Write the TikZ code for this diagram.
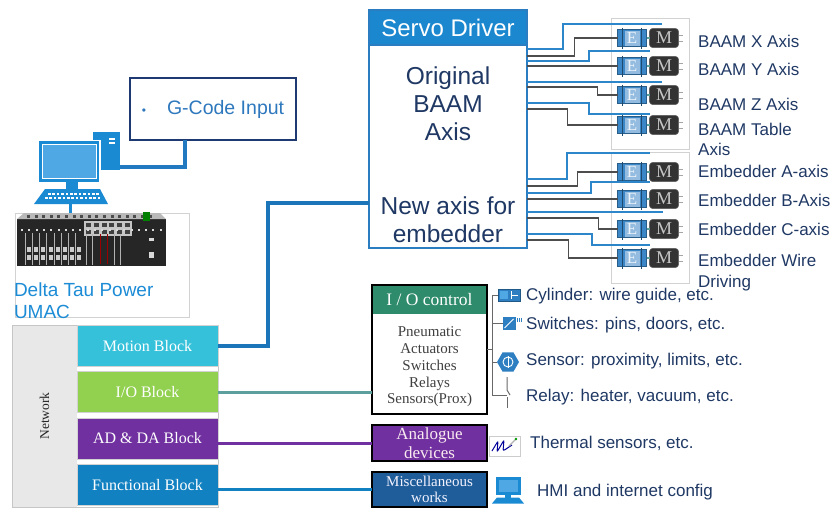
\documentclass[tikz,border=0pt]{standalone}
\usepackage{fontspec}
\setmainfont{Liberation Serif}
\setsansfont{Liberation Sans}
\usetikzlibrary{calc,shapes.geometric}

\definecolor{navy}{HTML}{1F3864}
\definecolor{servoblue}{HTML}{1B87CF}
\definecolor{servoedge}{HTML}{2A7DC0}
\definecolor{gnavy}{HTML}{1F3A73}
\definecolor{gblue}{HTML}{2E78BD}
\definecolor{iconblue}{HTML}{1A8AD3}
\definecolor{iconlight}{HTML}{4FA8E4}
\definecolor{iconblue2}{HTML}{2E7FC2}
\definecolor{umacblue}{HTML}{1C8CD6}
\definecolor{linkblue}{HTML}{1C74B9}
\definecolor{glinkblue}{HTML}{2279BF}
\definecolor{motioncol}{HTML}{36C1DA}
\definecolor{iocol}{HTML}{92D050}
\definecolor{purp}{HTML}{7030A0}
\definecolor{funccol}{HTML}{1181C1}
\definecolor{teallink}{HTML}{5C9F9D}
\definecolor{iogreen}{HTML}{2E8B6C}
\definecolor{miscblue}{HTML}{1F5D9A}
\definecolor{encblue}{HTML}{3A86C6}
\definecolor{wireblue}{HTML}{2D86C9}
\definecolor{wiregray}{HTML}{4D4D4D}

\newcommand\fsz[2]{\fontsize{#1}{#2}\selectfont}

% encoder + motor pair, #1 = index, (#2,#3) = encoder centre
\newcommand\emunit[3]{%
  \node[enc] (e#1) at (#2,#3) {E};
  \draw[fin] ($(e#1.north west)+(5,-2)$) -- ($(e#1.south west)+(5,2)$);
  \draw[fin] ($(e#1.north east)+(-5,-2)$) -- ($(e#1.south east)+(-5,2)$);
  \node[mot] (m#1) at ($(e#1)+(32,0)$) {M};
  \draw[teallink, line width=1.2pt] (e#1.east) -- (m#1.west);
  \draw[gray!70, line width=1pt] ($(m#1.east)+(0,-3)$) -- ++(4,0) ($(m#1.east)+(0,3)$) -- ++(4,0);
}

\begin{document}
\begin{tikzpicture}[x=1pt,y=-1pt,
  box/.style={inner sep=0, outer sep=0},
  lbl/.style={font=\sffamily\fsz{17}{20}, text=navy, anchor=west, inner sep=0, align=left},
  servotxt/.style={font=\sffamily\fsz{24.5}{28}, text=navy, align=center, inner sep=0},
  blk/.style={box, minimum width=141pt, minimum height=41pt, draw=gray!35, line width=0.8pt,
    text=white, font=\fsz{16}{19}},
  enc/.style={box, fill=encblue, draw=encblue!70!black, line width=0.6pt,
    minimum width=29pt, minimum height=17pt, text=white!92!encblue, font=\fsz{17}{17},
    path picture={\fill[encblue!55!white]
      ($(path picture bounding box.south west)+(7,-1)$) rectangle
      ($(path picture bounding box.north east)+(-7,1)$);}},
  fin/.style={draw=encblue!55!black, line width=0.9pt},
  mot/.style={box, fill=black!80, draw=black!60, line width=0.6pt, rounded corners=3pt,
    minimum width=29pt, minimum height=19pt, text=gray!45, font=\fsz{18}{18}},
  grp/.style={box, draw=gray!35, line width=0.8pt, fill=white},
  wb/.style={draw=wireblue, line width=1.3pt},
  wg/.style={draw=wiregray, line width=1.3pt},
  br/.style={draw=wiregray!85, line width=1pt},
  link/.style={draw=linkblue, line width=4pt},
]
\useasboundingbox (0,0) rectangle (832,509);

% ---------- controller: UMAC rack and label ----------
\node[box, draw=gray!35, line width=0.8pt, fill=white, minimum width=174pt, minimum height=104pt] (umacbox) at (102,265) {};
\node[box, fill=black!85, minimum width=149pt, minimum height=47pt] (rack) at (91.5,242.5) {};
\fill[gray!55] (24,213) -- (160,213) -- (166,219) -- (17,219) -- cycle;
\foreach \i in {0,...,16} \fill[black!70] (27+\i*7.6,214.5) rectangle ++(3,3);
\fill[gray!45] (84,221) rectangle (132,236);
\foreach \i in {0,...,5} \fill[black!75] (86+\i*7.8,223) rectangle ++(5,4);
\foreach \i in {0,...,5} \fill[black!75] (86+\i*7.8,230) rectangle ++(5,4);
\fill[green!50!black] (143,212) rectangle (150,221);
\foreach \i in {0,...,19} \fill[white!70!gray] (21+\i*7.3,229) rectangle ++(2,2);
\foreach \i in {0,...,7} {
  \draw[gray!60, line width=0.5pt] (25+\i*7.2,233) -- (25+\i*7.2,265);
  \fill[white!80!black] (27+\i*7.2,247) rectangle ++(4,5);
  \fill[white!80!black] (27+\i*7.2,255) rectangle ++(4,5);
}
\foreach \xx in {86,92,114,120} \draw[gray!60, line width=0.6pt] (\xx,234) -- (\xx,265);
\foreach \xx in {100,107} \draw[red!60!black, line width=0.8pt] (\xx,234) -- (\xx,264);
\fill[white!70!gray] (149,238) rectangle ++(5,3);
\fill[white!70!gray] (149,252) rectangle ++(5,6);
\node[box, font=\sffamily\fsz{19}{22}, text=umacblue, align=left, anchor=west] (umaclbl) at (14,301) {Delta Tau Power\\UMAC};

% ---------- workstation ----------
\node[box, fill=iconblue, minimum width=27pt, minimum height=38pt] (tower) at (106.5,151) {};
\fill[white] ($(tower.north east)+(-11,6)$) rectangle ++(6,2);
\fill[white] ($(tower.north east)+(-11,10)$) rectangle ++(6,2);
\node[box, fill=iconblue, draw=white, line width=1.5pt, minimum width=62pt, minimum height=42pt] (monitor) at (69,161.5) {};
\draw[white, line width=0.8pt, fill=iconlight] ($(monitor.north west)+(4,4)$) rectangle ($(monitor.south east)+(-4,-4)$);
\fill[iconblue] (66,182) rectangle (78,189);
\fill[iconblue] (45,189) -- (100,189) -- (108,204) -- (34,204) -- cycle;
\foreach \i in {0,...,11} \fill[white] (48+\i*4.4,192.5) rectangle ++(2.5,2);
\foreach \i in {0,...,12} \fill[white] (45+\i*4.4,197) rectangle ++(2.5,2);
\draw[iconblue, line width=3pt] (70,204) -- (70,213);

% ---------- G-code input ----------
\node[box, draw=gnavy, line width=2pt, fill=white, minimum width=166pt, minimum height=62pt,
  font=\sffamily\fsz{19.5}{20}, text=gblue] (gcode) at (213,109)
  {{\fsz{12}{12}\textbullet}\hspace{21pt}G-Code Input};
\draw[draw=glinkblue, line width=4pt] ($(gcode.south)+(-28,0)$) |- ($(tower.east)+(0,16)$);

% ---------- network stack ----------
\node[box, draw=gray!45, line width=0.8pt, fill=gray!18, minimum width=206pt, minimum height=182pt] (net) at (115,416) {};
\fill[white] ($(net.north west)+(65,0.5)$) rectangle ($(net.south east)+(-0.5,-0.5)$);
\node[rotate=90, font=\fsz{13.5}{14}, text=black!85, inner sep=0] (netlbl) at (44.5,416) {Network};
\node[blk, fill=motioncol] (motion) at (147.5,346) {Motion Block};
\node[blk, fill=iocol] (io) at (147.5,392) {I/O Block};
\node[blk, fill=purp] (adda) at (147.5,438.5) {AD \& DA Block};
\node[blk, fill=funccol] (func) at (147.5,485) {Functional Block};

% ---------- servo driver ----------
\node[box, draw=servoedge, line width=2pt, fill=white, minimum width=158pt, minimum height=238pt] (servo) at (448,129) {};
\node[box, fill=servoblue, minimum width=158pt, minimum height=35pt, anchor=north,
  text=white, font=\sffamily\fsz{24}{24}] (servohead) at (servo.north) {Servo Driver};
\draw[servoedge, line width=2pt] (servohead.south west) -- (servohead.south east);
\draw[servoedge, line width=2pt] (servo.south west) rectangle (servo.north east);
\node[servotxt] (orig) at (448,104) {Original\\BAAM\\Axis};
\node[servotxt] (newax) at (448,220) {New axis for\\embedder};

% ---------- axis groups ----------
\node[grp, minimum width=78pt, minimum height=131pt] (grpa) at (650,83.5) {};
\node[grp, minimum width=78pt, minimum height=131pt] (grpb) at (650,218) {};
\emunit{1}{632}{38}
\emunit{2}{632}{66}
\emunit{3}{632}{95}
\emunit{4}{632}{125}
\emunit{5}{632}{172}
\emunit{6}{632}{199}
\emunit{7}{632}{229}
\emunit{8}{632}{258}

% wiring, original axes
\draw[wb] ($(servo.north east)+(0,39)$) -| (563,24) -- (662,24);
\draw[wg] ($(servo.north east)+(0,46)$) -| ($(e1.west)+(-43,0)$) -- (e1.west);
\draw[wb] ($(servo.north east)+(0,51)$) -| (589,51) -- (650,51);
\draw[wg] (servo.east |- e2.west) -- (e2.west);
\draw[wb] ($(servo.north east)+(0,72)$) -- ++(135,0);
\draw[wg] ($(servo.north east)+(0,77)$) -| ($(e3.west)+(-20,0)$) -- (e3.west);
\draw[wb] ($(servo.north east)+(0,93)$) -| (589,114) -- (650,114);
\draw[wg] ($(servo.north east)+(0,99)$) -| ($(e4.west)+(-50,0)$) -- (e4.west);
% wiring, embedder axes
\draw[wb] ($(servo.north east)+(0,169)$) -| (567,153) -- (650,153);
\draw[wg] ($(servo.north east)+(0,176)$) -| ($(e5.west)+(-40,0)$) -- (e5.west);
\draw[wb] ($(servo.north east)+(0,183)$) -| (591,182) -- (650,182);
\draw[wg] (servo.east |- e6.west) -- (e6.west);
\draw[wb] ($(servo.north east)+(0,202)$) -- ++(136,0);
\draw[wg] ($(servo.north east)+(0,208)$) -| ($(e7.west)+(-19,0)$) -- (e7.west);
\draw[wb] ($(servo.north east)+(0,224)$) -| (592,245) -- (650,245);
\draw[wg] ($(servo.north east)+(0,230)$) -| ($(e8.west)+(-49,0)$) -- (e8.west);

% axis labels
\node[lbl] (lx) at (698,41) {BAAM X Axis};
\node[lbl] (ly) at (698,69) {BAAM Y Axis};
\node[lbl] (lz) at (698,104) {BAAM Z Axis};
\node[lbl] (lt) at (698,139) {BAAM Table\\Axis};
\node[lbl] (la) at (698,171) {Embedder A-axis};
\node[lbl] (lb) at (698,200) {Embedder B-Axis};
\node[lbl] (lc) at (698,229.5) {Embedder C-axis};
\node[lbl, font=\sffamily\fsz{17}{21}] (lw) at (698,273) {Embedder Wire\\Driving};

% ---------- I/O side ----------
\node[box, draw=black, line width=2.5pt, fill=white, minimum width=115pt, minimum height=129pt] (ioctl) at (429.5,349.5) {};
\node[box, fill=iogreen, minimum width=115pt, minimum height=29pt, anchor=north,
  text=white, font=\fsz{17.5}{18}] (iohead) at (ioctl.north) {I / O control};
\draw[black, line width=2.5pt] (ioctl.south west) rectangle (ioctl.north east);
\node[align=center, font=\fsz{15}{16.8}, text=black!75, inner sep=0] (iobody) at (429.5,367)
  {Pneumatic\\Actuators\\Switches\\Relays\\Sensors(Prox)};
\node[box, draw=black, line width=2pt, fill=purp, minimum width=115pt, minimum height=36pt,
  text=purple!8, font=\fsz{17}{18.5}, align=center] (analog) at (429.5,443) {Analogue\\devices};
\node[box, draw=black, line width=2pt, fill=miscblue, minimum width=115pt, minimum height=35pt,
  text=blue!5, font=\fsz{15}{16}, align=center] (misc) at (429.5,489.5) {Miscellaneous\\works};

% links from the network blocks
\draw[link] (motion.east) -| ($(servo.south west)+(-101,-45)$) -- ($(servo.south west)+(0,-45)$);
\draw[draw=teallink, line width=3pt] (io.east) -- (io.east -| ioctl.west);
\draw[draw=purp, line width=3pt] ($(adda.east)+(0,4.5)$) -- (analog.west);
\draw[draw=funccol, line width=3pt] ($(func.east)+(0,4.5)$) -- (misc.west);

% I/O devices
\node[box, fill=iconblue2, draw=iconblue2!70!black, line width=0.6pt, minimum width=22pt, minimum height=12pt] (cyl) at (509,295) {};
\fill[iconlight] ($(cyl.north west)+(2,2)$) rectangle ($(cyl.south)+(-1,-2)$);
\draw[white, line width=0.8pt] ($(cyl.north)+(2,2)$) -- ($(cyl.south)+(2,-2)$);
\draw[white, line width=0.8pt] ($(cyl.east)+(-8,0)$) -- ($(cyl.east)+(-2,0)$);
\node[box, fill=iconblue2, minimum size=13pt] (swi) at (509,323.5) {};
\draw[white, line width=0.8pt] ($(swi.south west)+(2,-2)$) -- ($(swi.north east)+(-2,2)$);
\foreach \k in {1.5,3.5,5.5} \draw[iconblue2, line width=0.8pt] ($(swi.north east)+(\k,1)$) -- ++(0,4);
\node[box, regular polygon, regular polygon sides=6, fill=iconblue2, minimum size=22pt] (sens) at (508,362) {};
\draw[white, line width=0.9pt] (sens.center) circle (5pt);
\draw[white, line width=0.9pt] ($(sens.center)+(0,-6)$) -- ($(sens.center)+(0,6)$);
\coordinate (relay) at (507,395);
\draw[br] ($(relay)+(0,-18)$) -- ($(relay)+(0,-5)$) -- ($(relay)+(3,0)$);
\draw[br] ($(relay)+(0,2)$) -- ($(relay)+(0,13)$);

\coordinate (bust) at (492,295);
\coordinate (busb) at (492,395);
\draw[br] (bust) -- (busb);
\draw[br] (bust) -- (cyl.west);
\draw[br] (bust |- swi.west) -- (swi.west);
\draw[br] (bust |- sens.west) -- (sens.west);
\draw[br] (busb) -- (relay);
\draw[br] (ioctl.east) -- (ioctl.east -| bust);

\node[box, draw=gray!40, line width=0.6pt, fill=white, minimum width=31pt, minimum height=20pt] (therm) at (504.5,446) {};
\draw[blue!60!black, line width=1pt, rounded corners=2pt] ($(therm.west)+(3,5)$) -- ++(6,-10) -- ++(-1,11) -- ++(7,-12) -- ++(-1,11) -- ++(9,-6);
\draw[gray!60, line width=1.3pt] ($(therm.north east)+(-11,10)$) -- ($(therm.north east)+(-4,3)$);
\fill[green!60!black] ($(therm.north east)+(-4,3)$) circle (1.3pt);

\node[box, fill=iconblue, minimum width=25pt, minimum height=18pt] (hmi) at (508,485.5) {};
\fill[iconlight] ($(hmi.north west)+(3,3)$) rectangle ($(hmi.south east)+(-3,-3)$);
\fill[iconblue] ($(hmi.south)+(-3,0)$) rectangle ($(hmi.south)+(3,3)$);
\fill[iconblue] ($(hmi.south)+(-11,3)$) -- ($(hmi.south)+(11,3)$) -- ($(hmi.south)+(16,9)$) -- ($(hmi.south)+(-16,9)$) -- cycle;

% device labels
\node[lbl] (lcyl) at (526,296) {Cylinder: wire guide, etc.};
\node[lbl] (lswi) at (526,325) {Switches: pins, doors, etc.};
\node[lbl] (lsens) at (526,361) {Sensor: proximity, limits, etc.};
\node[lbl] (lrel) at (526,397) {Relay: heater, vacuum, etc.};
\node[lbl] (ltherm) at (530,443) {Thermal sensors, etc.};
\node[lbl] (lhmi) at (537,492) {HMI and internet config};
\end{tikzpicture}
\end{document}
